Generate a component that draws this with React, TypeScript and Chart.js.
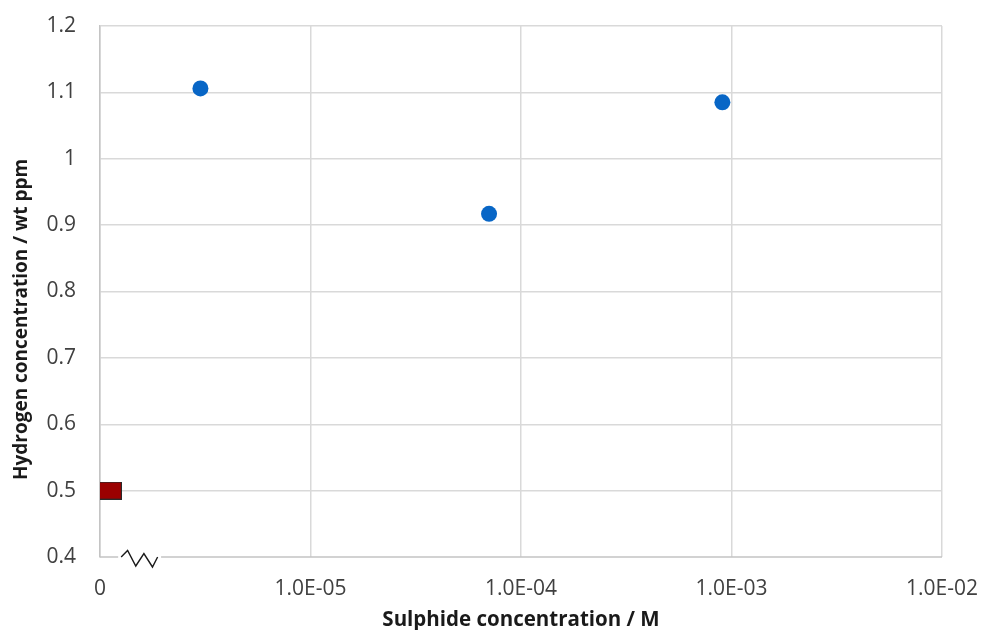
import { useEffect, useRef } from "react";
import { Chart, registerables } from "chart.js";

Chart.register(...registerables);

// ---- data ----
const blueX = [3.0e-6, 7.05e-5, 9.05e-4];
const blueY = [1.106, 0.917, 1.085];
const redX = [1.12e-6];
const redY = [0.5];
const xTickValues = [1e-6, 1e-5, 1e-4, 1e-3, 1e-2];
const xTickLabels = ["0", "1.0E-05", "1.0E-04", "1.0E-03", "1.0E-02"];
const yMin = 0.4;
const yMax = 1.2;
const yStep = 0.1;
const xTitle = "Sulphide concentration / M";
const yTitle = "Hydrogen concentration / wt ppm";
const breakRange = [1.22e-6, 1.95e-6];

const FONT = "'Open Sans', 'Liberation Sans', sans-serif";
const GRID = "#d9d9d9";
const AXIS = "#c4c4c4";

const axisPlugin = {
  id: "axisBreak",
  beforeDatasetsDraw(chart: any) {
    const { ctx, chartArea, scales } = chart;
    const xs = scales.x;
    const yb = chartArea.bottom;
    const b0 = xs.getPixelForValue(breakRange[0]);
    const b1 = xs.getPixelForValue(breakRange[1]);
    ctx.save();
    ctx.strokeStyle = AXIS;
    ctx.lineWidth = 1.5;
    ctx.beginPath();
    ctx.moveTo(chartArea.left, yb);
    ctx.lineTo(b0, yb);
    ctx.moveTo(b1, yb);
    ctx.lineTo(chartArea.right, yb);
    ctx.stroke();
    const w = b1 - b0;
    const fx = [0.07, 0.22, 0.41, 0.6, 0.8, 0.92];
    const fy = [0, -6.5, 9, -3.5, 10, 0];
    ctx.strokeStyle = "#1a1a1a";
    ctx.lineWidth = 1.4;
    ctx.lineJoin = "miter";
    ctx.beginPath();
    fx.forEach((f, i) => {
      const px = b0 + f * w;
      const py = yb + fy[i];
      if (i === 0) ctx.moveTo(px, py);
      else ctx.lineTo(px, py);
    });
    ctx.stroke();
    ctx.restore();
  },
  afterDraw(chart: any) {
    const { ctx, chartArea } = chart;
    ctx.save();
    ctx.fillStyle = "#1a1a1a";
    ctx.font = `bold 19px ${FONT}`;
    ctx.textAlign = "center";
    ctx.textBaseline = "middle";
    ctx.translate(22, (chartArea.top + chartArea.bottom) / 2 + 28);
    ctx.rotate(-Math.PI / 2);
    ctx.fillText(yTitle, 0, 0);
    ctx.restore();
  },
};

export default function App() {
  const ref = useRef<HTMLCanvasElement>(null);
  useEffect(() => {
    if (!ref.current) return;
    const sq = document.createElement("canvas");
    sq.width = 23;
    sq.height = 18;
    const sctx = sq.getContext("2d")!;
    sctx.fillStyle = "#9b0000";
    sctx.fillRect(0.5, 0.5, 22, 17);
    sctx.strokeStyle = "#2a2a2a";
    sctx.lineWidth = 1;
    sctx.strokeRect(0.5, 0.5, 22, 17);

    const chart = new Chart(ref.current, {
      type: "scatter",
      data: {
        datasets: [
          {
            data: blueX.map((x, i) => ({ x, y: blueY[i] })),
            backgroundColor: "#0866c6",
            borderColor: "#0866c6",
            pointRadius: 8,
            pointHoverRadius: 8,
            borderWidth: 0,
          },
          {
            data: redX.map((x, i) => ({ x, y: redY[i] })),
            pointStyle: sq as any,
            pointRadius: 9,
            backgroundColor: "#9b0000",
          },
        ],
      },
      options: {
        animation: false,
        responsive: true,
        maintainAspectRatio: false,
        layout: { padding: { left: 0, right: 41, top: 26, bottom: 0 } },
        plugins: { legend: { display: false }, tooltip: { enabled: false } },
        scales: {
          x: {
            type: "logarithmic",
            min: xTickValues[0],
            max: xTickValues[xTickValues.length - 1],
            afterBuildTicks: (s: any) => {
              s.ticks = xTickValues.map((v) => ({ value: v }));
            },
            afterFit: (s: any) => {
              s.height = 103;
              s.paddingLeft = 0;
              s.paddingRight = 0;
            },
            ticks: {
              autoSkip: false,
              maxRotation: 0,
              padding: 19,
              color: "#404040",
              font: { family: FONT, size: 21 },
              callback: (_v: any, i: number) => xTickLabels[i],
            },
            grid: { color: GRID, lineWidth: 1.5, drawTicks: false },
            border: { display: false },
            title: {
              display: true,
              text: xTitle,
              color: "#1a1a1a",
              font: { family: FONT, size: 20.5, weight: "bold" },
              padding: { top: 0, bottom: 27.5 },
            },
          },
          y: {
            min: yMin,
            max: yMax,
            afterFit: (s: any) => {
              s.width = 100;
              s.paddingTop = 0;
              s.paddingBottom = 0;
            },
            ticks: {
              stepSize: yStep,
              padding: 24,
              color: "#404040",
              font: { family: FONT, size: 21 },
              callback: (v: any) => String(Number(Number(v).toFixed(1))),
            },
            grid: {
              color: (c: any) => (c.tick && Math.abs(c.tick.value - yMin) < 1e-9 ? "rgba(0,0,0,0)" : GRID),
              lineWidth: 1.5,
              drawTicks: false,
            },
            border: { display: true, color: AXIS, width: 1.5 },
          },
        },
      },
      plugins: [axisPlugin],
    } as any);
    return () => chart.destroy();
  }, []);
  return (
    <div style={{ position: "absolute", left: 0, top: 0, width: 983, height: 630, overflow: "hidden" }}>
      <div style={{ position: "relative", width: 983, height: 660 }}>
        <canvas ref={ref} />
      </div>
    </div>
  );
}
